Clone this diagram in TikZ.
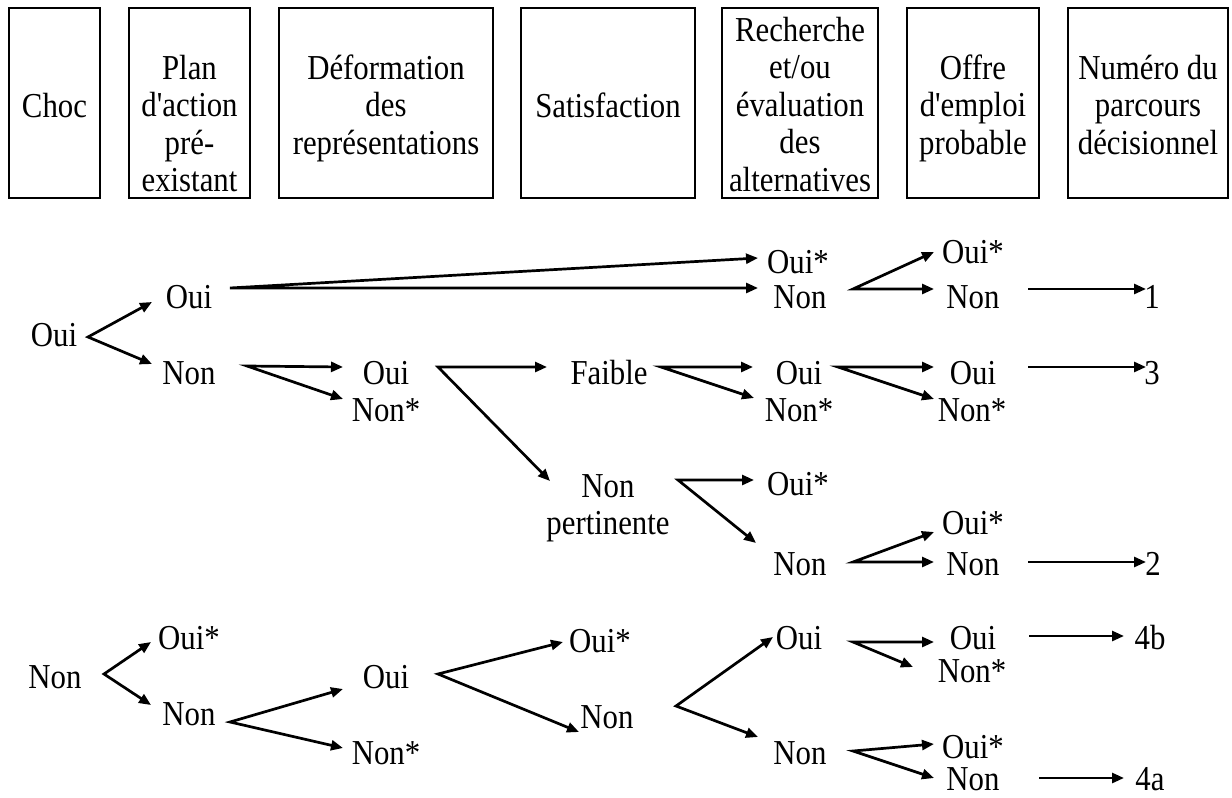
\documentclass[tikz,border=0pt]{standalone}
\usepackage{fontspec}
\setmainfont{Liberation Serif}[FakeStretch=0.88, Ligatures=TeXOff]
\usetikzlibrary{arrows.meta}
\tikzset{
  lab/.style={font=\fontsize{35}{37.5}\selectfont, inner sep=0pt, anchor=base},
  boxtxt/.style={font=\fontsize{35}{37.5}\selectfont, inner sep=0pt, anchor=north, align=center},
  hdr/.style={draw, line width=2.3pt, minimum height=190pt, inner sep=0pt},
  arr/.style={line width=2.7pt, -{Triangle[length=12pt,width=10pt]}},
  fork/.style={line width=2.7pt, line join=miter, {Triangle[length=12pt,width=10pt]}-{Triangle[length=12pt,width=10pt]}}
}
\newcommand{\mystr}{\strut}
\begin{document}
\begin{tikzpicture}[x=1pt,y=-1pt]
\useasboundingbox (0,0) rectangle (1232,798);
% header boxes
\node[hdr, minimum width=91pt]  (bChoc)  at (54.5,103) {};
\node[hdr, minimum width=121pt] (bPlan)  at (189.5,103) {};
\node[hdr, minimum width=214pt] (bDef)   at (386,103) {};
\node[hdr, minimum width=174pt] (bSat)   at (608,103) {};
\node[hdr, minimum width=156pt] (bRech)  at (800,103) {};
\node[hdr, minimum width=132pt] (bOffre) at (973,103) {};
\node[hdr, minimum width=160pt] (bNum)   at (1148,103) {};
\node[boxtxt] (tChoc)  at (54.5,90.75) {\mystr Choc};
\node[boxtxt] (tPlan)  at (189.5,52.75) {\mystr Plan\\\mystr d'action\\\mystr pré-\\\mystr existant};
\node[boxtxt] (tDef)   at (386,52.75) {\mystr Déformation\\\mystr des\\\mystr représentations};
\node[boxtxt] (tSat)   at (608,90.75) {\mystr Satisfaction};
\node[boxtxt] (tRech)  at (800,14.75) {\mystr Recherche\\\mystr et/ou\\\mystr évaluation\\\mystr des\\\mystr alternatives};
\node[boxtxt] (tOffre) at (973,52.75) {\mystr Offre\\\mystr d'emploi\\\mystr probable};
\node[boxtxt] (tNum)   at (1148,52.75) {\mystr Numéro du\\\mystr parcours\\\mystr décisionnel};
% top tree labels
\node[lab] (r1)  at (54,346) {Oui};
\node[lab] (n1o) at (189,308) {Oui};
\node[lab] (n1n) at (189,384) {Non};
\node[lab] (n2o) at (386,384) {Oui};
\node[lab] (n2n) at (386,421) {Non*};
\node[lab] (nFa) at (609,384) {Faible};
\node[boxtxt] (nNP) at (608,470.75) {\mystr Non\\\mystr pertinente};
\node[lab] (n4a) at (798,273) {Oui*};
\node[lab] (n4b) at (800,308) {Non};
\node[lab] (n4c) at (799,384) {Oui};
\node[lab] (n4d) at (799,421) {Non*};
\node[lab] (n4e) at (798,495) {Oui*};
\node[lab] (n4f) at (800,575) {Non};
\node[lab] (n5a) at (973,263) {Oui*};
\node[lab] (n5b) at (973,308) {Non};
\node[lab] (n5c) at (973,384) {Oui};
\node[lab] (n5d) at (972,421) {Non*};
\node[lab] (n5e) at (973,534) {Oui*};
\node[lab] (n5f) at (973,575) {Non};
\node[lab] (e1) at (1152,308) {1};
\node[lab] (e3) at (1152,384) {3};
\node[lab] (e2) at (1153,575) {2};
% bottom tree labels
\node[lab] (r2)  at (55,688) {Non};
\node[lab] (m1a) at (189,649) {Oui*};
\node[lab] (m1b) at (189,725) {Non};
\node[lab] (m2a) at (386,688) {Oui};
\node[lab] (m2b) at (386,764) {Non*};
\node[lab] (m3a) at (600,652) {Oui*};
\node[lab] (m3b) at (607,728) {Non};
\node[lab] (m4a) at (799,649) {Oui};
\node[lab] (m4b) at (800,764) {Non};
\node[lab] (m5a) at (973,649) {Oui};
\node[lab] (m5b) at (972,682) {Non*};
\node[lab] (m5c) at (973,758) {Oui*};
\node[lab] (m5d) at (973,790) {Non};
\node[lab] (e4b) at (1150,649) {4b};
\node[lab] (e4a) at (1150,790) {4a};
% connector points
\coordinate (s0) at (88,337);   \coordinate (t0a) at (152,302); \coordinate (t0b) at (152,364);
\coordinate (s1a) at (230,288); \coordinate (t1a) at (758,258); \coordinate (t1b) at (758,288);
\coordinate (s1b) at (247,366); \coordinate (t1c) at (343,367); \coordinate (t1d) at (343,399);
\coordinate (s2) at (438,367);  \coordinate (t2a) at (547,367); \coordinate (t2b) at (550,481);
\coordinate (s3) at (661,367);  \coordinate (t3a) at (753,367); \coordinate (t3b) at (754,398);
\coordinate (s4c) at (838,367); \coordinate (t4a) at (934,367); \coordinate (t4b) at (934,399);
\coordinate (s5c) at (1028,367); \coordinate (t5c) at (1146,367);
\coordinate (s4b) at (853,289); \coordinate (t4c) at (934,252); \coordinate (t4d) at (934,289);
\coordinate (s5b) at (1028,289); \coordinate (t5b) at (1146,289);
\coordinate (sNP) at (678,480); \coordinate (tNPa) at (754,480); \coordinate (tNPb) at (756,543);
\coordinate (s4f) at (853,562); \coordinate (t4e) at (934,532); \coordinate (t4f) at (934,562);
\coordinate (s5f) at (1028,562); \coordinate (t5f) at (1146,562);
\coordinate (u0) at (104,674);  \coordinate (v0a) at (151,642); \coordinate (v0b) at (151,705);
\coordinate (u1) at (230,722);  \coordinate (v1a) at (343,689); \coordinate (v1b) at (343,748);
\coordinate (u2) at (438,674);  \coordinate (v2a) at (563,642); \coordinate (v2b) at (579,732);
\coordinate (u3) at (676,706);  \coordinate (v3a) at (773,637); \coordinate (v3b) at (758,737);
\coordinate (u4a) at (853,642); \coordinate (v4a) at (934,642); \coordinate (v4b) at (913,667);
\coordinate (u5a) at (1029,636); \coordinate (v5a) at (1124,636);
\coordinate (u4b) at (853,751); \coordinate (v4c) at (934,744); \coordinate (v4d) at (934,778);
\coordinate (u5d) at (1039,778); \coordinate (v5d) at (1124,778);
% connectors top
\draw[fork] (t0a) -- (s0) -- (t0b);
\draw[fork] (t1a) -- (s1a) -- (t1b);
\draw[fork] (t1c) -- (s1b) -- (t1d);
\draw[fork] (t2a) -- (s2) -- (t2b);
\draw[fork] (t3a) -- (s3) -- (t3b);
\draw[fork] (t4a) -- (s4c) -- (t4b);
\draw[arr] (s5c) -- (t5c);
\draw[fork] (t4c) -- (s4b) -- (t4d);
\draw[arr] (s5b) -- (t5b);
\draw[fork] (tNPa) -- (sNP) -- (tNPb);
\draw[fork] (t4e) -- (s4f) -- (t4f);
\draw[arr] (s5f) -- (t5f);
% connectors bottom
\draw[fork] (v0a) -- (u0) -- (v0b);
\draw[fork] (v1a) -- (u1) -- (v1b);
\draw[fork] (v2a) -- (u2) -- (v2b);
\draw[fork] (v3a) -- (u3) -- (v3b);
\draw[fork] (v4a) -- (u4a) -- (v4b);
\draw[arr] (u5a) -- (v5a);
\draw[fork] (v4c) -- (u4b) -- (v4d);
\draw[arr] (u5d) -- (v5d);
\end{tikzpicture}
\end{document}
